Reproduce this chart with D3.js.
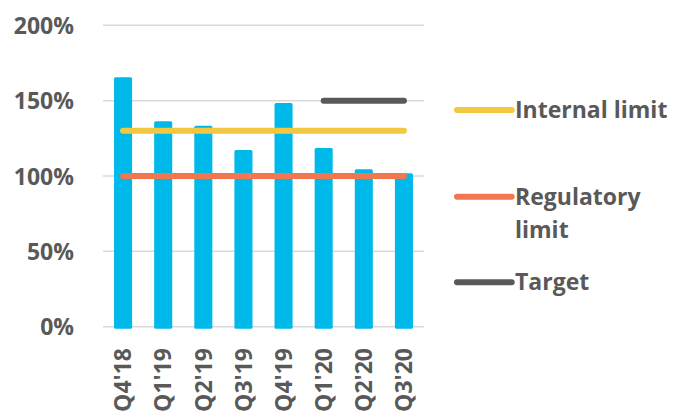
<!DOCTYPE html>
<html>
<head>
<meta charset="utf-8">
<script src="https://cdn.jsdelivr.net/npm/d3@7"></script>
<style>
  html, body { margin: 0; padding: 0; background: #fff; }
  svg text { font-family: "Open Sans", "Liberation Sans", sans-serif; font-weight: 700; fill: #595959; }
</style>
</head>
<body>
<svg id="chart" width="676" height="418"></svg>
<script>
// Quarterly ratio (bars) against limit and target lines
const quarters = ["Q4'18", "Q1'19", "Q2'19", "Q3'19", "Q4'19", "Q1'20", "Q2'20", "Q3'20"];
const ratio = [165.5, 136.3, 133.4, 117.3, 148.4, 118.6, 104.4, 101.8];
const internalLimit = [130, 130, 130, 130, 130, 130, 130, 130];
const regulatoryLimit = [100, 100, 100, 100, 100, 100, 100, 100];
const target = [null, null, null, null, null, 150, 150, 150];
const yTicks = [0, 50, 100, 150, 200];

const series = [
  { name: ["Internal limit"], values: internalLimit, color: "#F2C840" },
  { name: ["Regulatory", "limit"], values: regulatoryLimit, color: "#F2764F" },
  { name: ["Target"], values: target, color: "#595959" }
];

const svg = d3.select("#chart");
const plotLeft = 103, plotRight = 424, plotTop = 25.3, plotBottom = 326.7;

const x = d3.scaleBand().domain(quarters).range([plotLeft, plotRight]).paddingInner(0.55).paddingOuter(0.275);
const y = d3.scaleLinear().domain([0, 200]).range([plotBottom, plotTop]);

// gridlines
svg.append("g").selectAll("line").data(yTicks).join("line")
  .attr("x1", plotLeft).attr("x2", plotRight)
  .attr("y1", d => y(d)).attr("y2", d => y(d))
  .attr("stroke", "#D9D9D9").attr("stroke-width", 1.5);

// y axis labels
const yAxis = d3.axisLeft(y).tickValues(yTicks).tickFormat(d => d + "%").tickSize(0).tickPadding(0);
svg.append("g").attr("transform", `translate(74,0)`).call(yAxis)
  .call(g => g.select(".domain").remove())
  .call(g => g.selectAll("text").attr("font-size", 23).attr("dy", "0.36em").attr("fill", null));
svg.selectAll("g").attr("font-family", null).attr("font-size", null);

// bars
svg.append("g").selectAll("rect").data(quarters).join("rect")
  .attr("x", d => x(d))
  .attr("width", x.bandwidth())
  .attr("y", (d, i) => y(ratio[i]))
  .attr("height", (d, i) => y(0) - y(ratio[i]) + 2)
  .attr("rx", 1.5)
  .attr("fill", "#00B9EB");

// x axis labels, rotated
const xAxis = d3.axisBottom(x).tickSize(0).tickPadding(0);
const xg = svg.append("g").attr("transform", `translate(0,348)`).call(xAxis)
  .attr("font-family", null).attr("font-size", null);
xg.select(".domain").remove();
xg.selectAll("text")
  .attr("font-size", 23).attr("fill", null)
  .attr("transform", "rotate(-90)")
  .attr("text-anchor", "end")
  .attr("x", 0).attr("y", 0).attr("dy", "0.36em");

// limit and target lines
const line = d3.line()
  .defined(d => d.v != null)
  .x(d => x(d.q) + x.bandwidth() / 2)
  .y(d => y(d.v));

svg.append("g").selectAll("path").data(series).join("path")
  .attr("d", s => line(quarters.map((q, i) => ({ q, v: s.values[i] }))))
  .attr("fill", "none")
  .attr("stroke", s => s.color)
  .attr("stroke-width", 6)
  .attr("stroke-linecap", "round");

// legend
const legendY = [110, 196.7, 282.3];
const legend = svg.append("g").selectAll("g").data(series).join("g")
  .attr("transform", (s, i) => `translate(0,${legendY[i]})`);
legend.append("line")
  .attr("x1", 457).attr("x2", 511.7)
  .attr("stroke", s => s.color).attr("stroke-width", 6).attr("stroke-linecap", "round");
legend.append("text")
  .attr("x", 515).attr("font-size", 23)
  .selectAll("tspan").data(s => s.name).join("tspan")
  .attr("x", 515)
  .attr("y", (t, i) => 8 + i * 33.6)
  .text(t => t);
</script>
</body>
</html>
